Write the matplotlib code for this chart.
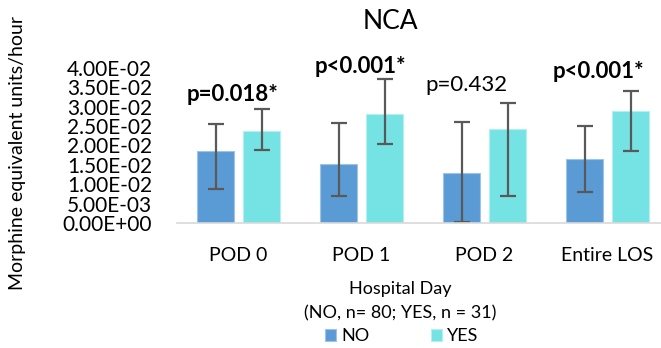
import numpy as np
import matplotlib.pyplot as plt

# данные
days = ['POD 0', 'POD 1', 'POD 2', 'Entire LOS']
no_mean = [0.0187, 0.0153, 0.0129, 0.0165]
no_hi = [0.0255, 0.0259, 0.0260, 0.0251]
no_lo = [0.0087, 0.0070, 0.0003, 0.0081]
yes_mean = [0.0238, 0.0282, 0.0242, 0.0290]
yes_hi = [0.0293, 0.0372, 0.0309, 0.0341]
yes_lo = [0.0189, 0.0203, 0.0070, 0.0185]
pvals = ['p=0.018*', 'p<0.001*', 'p=0.432', 'p<0.001*']
p_bold = [True, True, False, True]
p_y = [0.0331, 0.0403, 0.0356, 0.0390]
p_dx = [-0.05, -0.01, -0.15, -0.07]
yticks = [0, 0.005, 0.01, 0.015, 0.02, 0.025, 0.03, 0.035, 0.04]

plt.rcParams['font.family'] = ['Lato', 'DejaVu Sans']

fig = plt.figure(figsize=(6.61, 3.48), dpi=100)
ax = fig.add_axes([0.268, 0.359, 0.732, 0.446])

x = np.arange(len(days))
w = 0.306
off = 0.187
no_err = [np.array(no_mean) - np.array(no_lo), np.array(no_hi) - np.array(no_mean)]
yes_err = [np.array(yes_mean) - np.array(yes_lo), np.array(yes_hi) - np.array(yes_mean)]

ax.bar(x - off, no_mean, w, color='#5B9BD5', edgecolor='#9DC3E6', linewidth=0.8, label='NO',
       yerr=no_err, error_kw=dict(ecolor='#595959', elinewidth=1.6, capsize=6, capthick=1.6))
ax.bar(x + off, yes_mean, w, color='#75E3E4', edgecolor='#B4F0F0', linewidth=0.8, label='YES',
       yerr=yes_err, error_kw=dict(ecolor='#595959', elinewidth=1.6, capsize=6, capthick=1.6))

for i, t in enumerate(pvals):
    ax.text(x[i] + p_dx[i], p_y[i], t, ha='center', va='center', fontsize=16,
            fontweight='bold' if p_bold[i] else 'normal', clip_on=False)

ax.set_xlim(-0.5, 3.435)
ax.set_ylim(0, 0.04)
ax.set_yticks(yticks)
ax.set_yticklabels([f'{v:.2E}' for v in yticks], fontsize=15)
ax.set_xticks(x)
ax.set_xticklabels(days, fontsize=14)
ax.tick_params(axis='y', length=0, pad=18)
ax.tick_params(axis='x', length=0, pad=17)
for s in ['top', 'right', 'left']:
    ax.spines[s].set_visible(False)
ax.spines['bottom'].set_color('#D9D9D9')
ax.spines['bottom'].set_linewidth(1.2)

fig.text(0.605, 1 - 289 / 348, 'Hospital Day', ha='center', va='center', fontsize=13)
fig.text(0.605, 1 - 313 / 348, '(NO, n= 80; YES, n = 31)', ha='center', va='center', fontsize=13)
fig.text(0.027, 0.56, 'Morphine equivalent units/hour', rotation=90, ha='center', va='center', fontsize=14)
fig.text(0.59, 0.937, 'NCA', ha='center', va='center', fontsize=19)

fig.legend(loc='center', bbox_to_anchor=(0.608, 0.034), ncol=2, frameon=False, fontsize=13,
           handlelength=0.6, handleheight=0.6, columnspacing=3.4, handletextpad=0.3,
           borderaxespad=0, borderpad=0)

plt.savefig('out.png', dpi=100)
